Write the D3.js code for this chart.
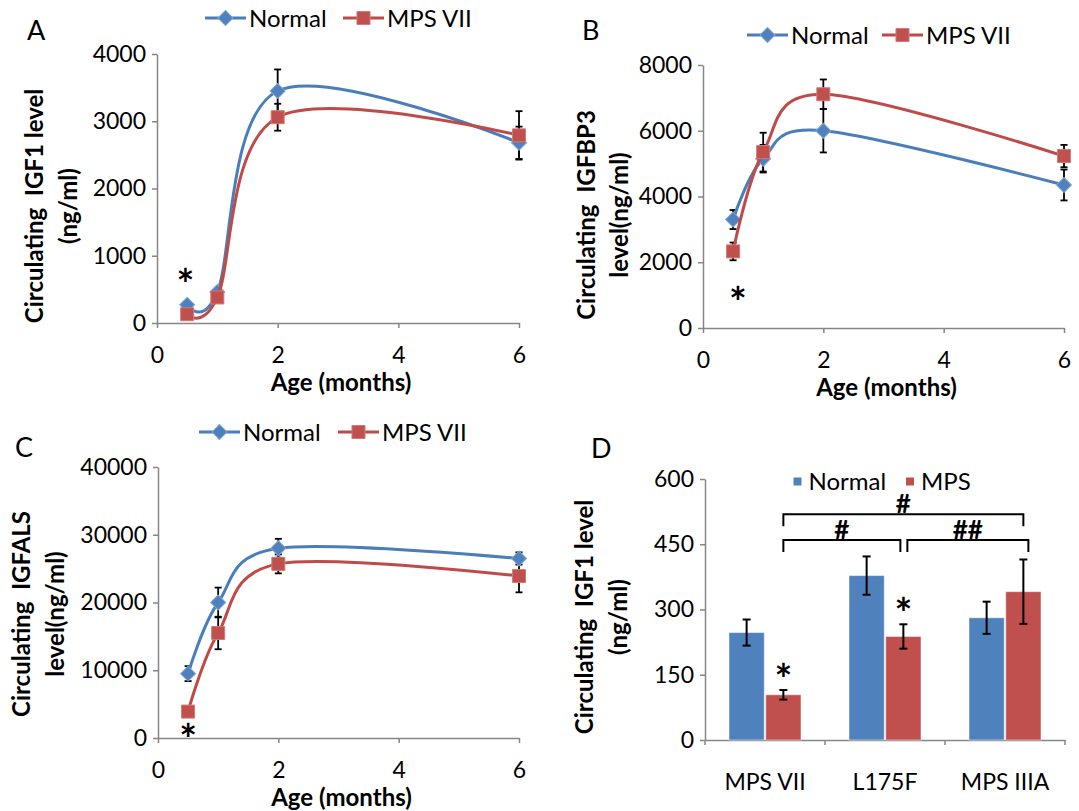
<!DOCTYPE html>
<html>
<head>
<meta charset="utf-8">
<script src="https://cdn.jsdelivr.net/npm/d3@7"></script>
<style>
  body { margin: 0; background: #fff; }
  svg text { font-family: Lato, "Open Sans", sans-serif; fill: #000; }
</style>
</head>
<body>
<svg id="fig" width="1079" height="811"></svg>
<script>
// ---- data ----
var ages = [0.5, 1, 2, 6];          // months
var ageTicks = [0, 2, 4, 6];

// A: IGF1 (ng/ml)
var igf1Normal    = [270, 460, 3450, 2680];
var igf1NormalErr = [40, 60, 320, 240];
var igf1Mps       = [130, 380, 3060, 2790];
var igf1MpsErr    = [30, 50, 200, 360];
var igf1Ticks     = [0, 1000, 2000, 3000, 4000];

// B: IGFBP3 (ng/ml)
var igfbp3Normal    = [3300, 5150, 6000, 4350];
var igfbp3NormalErr = [290, 420, 660, 470];
var igfbp3Mps       = [2330, 5350, 7110, 5230];
var igfbp3MpsErr    = [270, 590, 450, 340];
var igfbp3Ticks     = [0, 2000, 4000, 6000, 8000];

// C: IGFALS (ng/ml)
var igfalsNormal    = [9500, 20000, 28000, 26500];
var igfalsNormalErr = [1100, 2200, 1400, 900];
var igfalsMps       = [3900, 15500, 25700, 23900];
var igfalsMpsErr    = [500, 2400, 1400, 2400];
var igfalsTicks     = [0, 10000, 20000, 30000, 40000];

// D: IGF1 in three models
var models       = ["MPS VII", "L175F", "MPS IIIA"];
var barNormal    = [247, 378, 281];
var barNormalErr = [30, 44, 37];
var barMps       = [104, 238, 341];
var barMpsErr    = [11, 28, 74];
var barTicks     = [0, 150, 300, 450, 600];
var brackets = [
  { from: "MPS VII", to: "MPS IIIA", level: 519, label: "#" },
  { from: "MPS VII", to: "L175F",    level: 460, label: "#" },
  { from: "L175F",   to: "MPS IIIA", level: 460, label: "##" }
];
var starsD = [ { model: "MPS VII", value: 157 }, { model: "L175F", value: 309 } ];

var blue = "#4F81BD", red = "#C0504D";
var axisGrey = "#868686";
var svg = d3.select("#fig");
var fmt = d3.format("d");

function styleAxis(a) {
  a.attr("font-family", "Lato, 'Open Sans', sans-serif").attr("font-size", 23);
  a.selectAll("path, line").attr("stroke", axisGrey).attr("stroke-width", 1.5);
  a.selectAll("text").attr("fill", "#000");
}

function marker(sel, type) {
  if (type == "diamond") {
    sel.attr("d", d3.symbol().type(d3.symbolSquare).size(112)())
       .attr("fill", blue).attr("stroke", "#7ea3d3").attr("stroke-width", 1);
  } else {
    sel.attr("d", d3.symbol().type(d3.symbolSquare).size(170)())
       .attr("fill", red).attr("stroke", "#d27a78").attr("stroke-width", 1);
  }
}

function star(g, x, y) {
  g.append("text").attr("x", x).attr("y", y).attr("dy", "0.55em")
    .attr("text-anchor", "middle").attr("font-weight", "bold").attr("font-size", 42).text("*");
}

function yTitle(g, lines, xs, cy) {
  lines.forEach(function(t, i) {
    g.append("text")
      .attr("transform", "translate(" + xs[i] + "," + cy + ") rotate(-90)")
      .attr("dy", "0.35em")
      .attr("text-anchor", "middle")
      .attr("font-weight", "bold")
      .attr("font-size", 24)
      .style("white-space", "pre")
      .text(t);
  });
}

function drawLinePanel(p) {
  var g = svg.append("g");
  var x = d3.scaleLinear().domain([0, 6]).range([p.left, p.right]);
  var y = d3.scaleLinear().domain([0, p.ticks[p.ticks.length - 1]]).range([p.bottom, p.top]);

  var ya = g.append("g").attr("transform", "translate(" + p.left + ",0)")
    .call(d3.axisLeft(y).tickValues(p.ticks).tickFormat(fmt).tickSize(5).tickSizeOuter(0).tickPadding(6));
  var xa = g.append("g").attr("transform", "translate(0," + p.bottom + ")")
    .call(d3.axisBottom(x).tickValues(ageTicks).tickFormat(fmt).tickSize(5).tickSizeOuter(0).tickPadding(19));
  styleAxis(ya); styleAxis(xa);

  var series = p.series.map(function(s) {
    return { name: s.name, line: s.line, type: s.type,
      pts: ages.map(function(a, i) { return { a: a, v: s.values[i], e: s.errs[i] }; }) };
  });

  // error bars (behind the lines and markers)
  var eb = g.append("g").attr("stroke", "#000").attr("stroke-width", 1.8);
  series.forEach(function(s) {
    s.pts.forEach(function(d) {
      var cx = x(d.a), yt = y(d.v + d.e), yb = y(d.v - d.e);
      eb.append("line").attr("x1", cx).attr("x2", cx).attr("y1", yt).attr("y2", yb);
      eb.append("line").attr("x1", cx - 3.5).attr("x2", cx + 3.5).attr("y1", yt).attr("y2", yt);
      eb.append("line").attr("x1", cx - 3.5).attr("x2", cx + 3.5).attr("y1", yb).attr("y2", yb);
    });
  });

  var line = d3.line().x(function(d) { return x(d.a); }).y(function(d) { return y(d.v); })
    .curve(d3.curveCardinal.tension(0));

  series.forEach(function(s) {
    g.append("path").attr("d", line(s.pts)).attr("fill", "none")
      .attr("stroke", s.line).attr("stroke-width", 3);
    g.selectAll(null).data(s.pts).enter().append("path")
      .attr("transform", function(d) {
        return "translate(" + x(d.a) + "," + y(d.v) + ")" + (s.type == "diamond" ? " rotate(45)" : "");
      })
      .call(marker, s.type);
  });

  // legend
  series.forEach(function(s, i) {
    var lx = p.legend.x + i * p.legend.step, ly = p.legend.y;
    g.append("line").attr("x1", lx).attr("x2", lx + 41).attr("y1", ly).attr("y2", ly)
      .attr("stroke", s.line).attr("stroke-width", 3);
    g.append("path").attr("transform", "translate(" + (lx + 20.5) + "," + ly + ")" + (s.type == "diamond" ? " rotate(45)" : ""))
      .call(marker, s.type);
    g.append("text").attr("x", lx + 44).attr("y", ly + 9).attr("font-size", 24).text(s.name);
  });

  // titles
  g.append("text").attr("x", (p.left + p.right) / 2 + 3).attr("y", p.bottom + 68)
    .attr("text-anchor", "middle").attr("font-weight", "bold").attr("font-size", 24).text("Age (months)");
  yTitle(g, p.ytitle, p.ytitleX, p.ytitleY);
  g.append("text").attr("x", p.letter[0]).attr("y", p.letter[1]).attr("font-size", 27).text(p.name);

  star(g, x(p.star.age), y(p.star.value));
}

drawLinePanel({
  name: "A", ticks: igf1Ticks, left: 157, right: 519, top: 54, bottom: 323,
  series: [
    { name: "Normal", values: igf1Normal, errs: igf1NormalErr, line: "#4A7EBB", type: "diamond" },
    { name: "MPS VII", values: igf1Mps, errs: igf1MpsErr, line: "#BE4B48", type: "square" }
  ],
  legend: { x: 205, y: 18, step: 138 },
  ytitle: ["Circulating  IGF1 level", "(ng/ml)"], ytitleX: [35, 69], ytitleY: 206,
  letter: [27, 40], star: { age: 0.47, value: 690 }
});

drawLinePanel({
  name: "B", ticks: igfbp3Ticks, left: 703, right: 1064, top: 65, bottom: 328,
  series: [
    { name: "Normal", values: igfbp3Normal, errs: igfbp3NormalErr, line: "#4A7EBB", type: "diamond" },
    { name: "MPS VII", values: igfbp3Mps, errs: igfbp3MpsErr, line: "#BE4B48", type: "square" }
  ],
  legend: { x: 747, y: 35, step: 135 },
  ytitle: ["Circulating  IGFBP3", "level(ng/ml)"], ytitleX: [587, 620], ytitleY: 215,
  letter: [582, 40], star: { age: 0.58, value: 1010 }
});

drawLinePanel({
  name: "C", ticks: igfalsTicks, left: 158, right: 519, top: 467, bottom: 738,
  series: [
    { name: "Normal", values: igfalsNormal, errs: igfalsNormalErr, line: "#4A7EBB", type: "diamond" },
    { name: "MPS VII", values: igfalsMps, errs: igfalsMpsErr, line: "#BE4B48", type: "square" }
  ],
  legend: { x: 199, y: 432, step: 139 },
  ytitle: ["Circulating  IGFALS", "level(ng/ml)"], ytitleX: [22, 56], ytitleY: 614,
  letter: [15, 457], star: { age: 0.5, value: 930 }
});

// ---- panel D: bars ----
(function() {
  var g = svg.append("g");
  var left = 705, right = 1065, top = 479, bottom = 740;
  var x0 = d3.scaleBand().domain(models).range([left, right]);
  var x1 = d3.scaleBand().domain(["Normal", "MPS"]).range([x0.bandwidth() * 0.2, x0.bandwidth() * 0.8]).paddingInner(0.04);
  var y = d3.scaleLinear().domain([0, 600]).range([bottom, top]);

  var ya = g.append("g").attr("transform", "translate(" + left + ",0)")
    .call(d3.axisLeft(y).tickValues(barTicks).tickFormat(fmt).tickSize(5).tickSizeOuter(0).tickPadding(6));
  styleAxis(ya);
  var xa = g.append("g").attr("transform", "translate(0," + bottom + ")")
    .call(d3.axisBottom(x0).tickSize(0).tickPadding(34));
  styleAxis(xa);
  // category separators
  g.selectAll(null).data(d3.range(models.length + 1)).enter().append("line")
    .attr("x1", function(i) { return left + i * x0.step(); })
    .attr("x2", function(i) { return left + i * x0.step(); })
    .attr("y1", bottom).attr("y2", bottom + 5)
    .attr("stroke", axisGrey).attr("stroke-width", 1.5);

  var rows = models.map(function(m, i) {
    return [
      { m: m, s: "Normal", v: barNormal[i], e: barNormalErr[i], c: blue },
      { m: m, s: "MPS", v: barMps[i], e: barMpsErr[i], c: red }
    ];
  });
  var flat = d3.merge(rows);
  g.selectAll("rect.bar").data(flat).enter().append("rect")
    .attr("x", function(d) { return x0(d.m) + x1(d.s); })
    .attr("y", function(d) { return y(d.v); })
    .attr("width", x1.bandwidth())
    .attr("height", function(d) { return bottom - y(d.v); })
    .attr("fill", function(d) { return d.c; })
    .attr("stroke", "#ffffff").attr("stroke-opacity", 0.5).attr("stroke-width", 1);

  var cx = function(m, s) { return x0(m) + x1(s) + x1.bandwidth() / 2; };
  var eb = g.append("g").attr("stroke", "#000").attr("stroke-width", 2);
  flat.forEach(function(d) {
    var xc = cx(d.m, d.s), yt = y(d.v + d.e), yb = y(d.v - d.e);
    eb.append("line").attr("x1", xc).attr("x2", xc).attr("y1", yt).attr("y2", yb);
    eb.append("line").attr("x1", xc - 4).attr("x2", xc + 4).attr("y1", yt).attr("y2", yt);
    eb.append("line").attr("x1", xc - 4).attr("x2", xc + 4).attr("y1", yb).attr("y2", yb);
  });

  starsD.forEach(function(s) { star(g, cx(s.model, "MPS"), y(s.value)); });

  // significance brackets
  brackets.forEach(function(b) {
    var xa = cx(b.from, "MPS"), xb = cx(b.to, "MPS");
    if (b.level < 500) {
      if (b.to == "L175F") xb -= 3;
      if (b.from == "L175F") { xa += 4; xb += 5; }
    }
    var yl = y(b.level);
    g.append("path")
      .attr("d", "M" + xa + "," + (yl + 12) + "V" + yl + "H" + xb + "V" + (yl + 12))
      .attr("fill", "none").attr("stroke", "#000").attr("stroke-width", 2);
    g.append("text").attr("x", (xa + xb) / 2).attr("y", yl - 1)
      .attr("text-anchor", "middle").attr("font-weight", "bold").attr("font-size", 26).text(b.label);
  });

  // legend
  [["Normal", blue, 793.5], ["MPS", red, 906]].forEach(function(l) {
    g.append("rect").attr("x", l[2]).attr("y", 477.5).attr("width", 8).attr("height", 8).attr("fill", l[1]);
    g.append("text").attr("x", l[2] + 15).attr("y", 490).attr("font-size", 24).text(l[0]);
  });

  yTitle(g, ["Circulating  IGF1 level", "(ng/ml)"], [585, 619], 617);
  g.append("text").attr("x", 591).attr("y", 458).attr("font-size", 27).text("D");
})();
</script>
</body>
</html>
